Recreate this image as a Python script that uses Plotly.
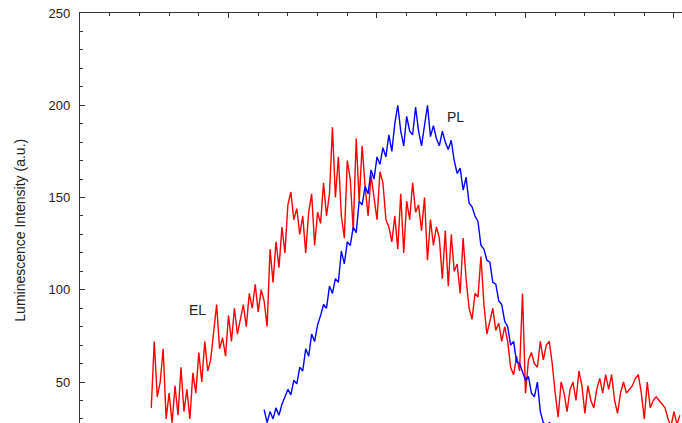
import plotly.graph_objects as go

# Wavelength grids (nm), 2 nm sampling
el_start, pl_start, step = 448, 524, 2

# Electroluminescence spectrum (a.u.)
el_intensity = [
    36, 72, 42, 50, 68, 30, 44, 28, 48, 32,
    58, 34, 46, 30, 55, 44, 66, 50, 72, 56,
    62, 78, 92, 68, 74, 64, 86, 72, 90, 76,
    84, 92, 80, 98, 90, 103, 88, 100, 94, 80,
    122, 104, 126, 112, 134, 120, 146, 153, 138, 144,
    130, 140, 120, 142, 152, 124, 142, 136, 158, 140,
    152, 188, 150, 172, 140, 128, 170, 160, 132, 182,
    148, 178, 156, 140, 162, 150, 138, 164, 158, 138,
    134, 126, 140, 122, 152, 120, 148, 138, 158, 142,
    146, 132, 150, 116, 138, 124, 134, 128, 106, 132,
    102, 130, 110, 114, 98, 128, 106, 90, 84, 98,
    96, 118, 92, 76, 84, 90, 78, 82, 72, 80,
    72, 58, 54, 64, 56, 98, 44, 62, 66, 60,
    58, 72, 62, 70, 72, 60, 44, 31, 50, 44,
    34, 46, 50, 40, 56, 48, 33, 48, 40, 36,
    46, 52, 44, 54, 46, 54, 40, 33, 44, 50,
    44, 46, 48, 52, 54, 44, 30, 50, 36, 40,
    42, 40, 38, 36, 30, 26, 34, 27, 32,
]

# Photoluminescence spectrum (a.u.)
pl_intensity = [
    35, 28, 34, 30, 36, 32, 38, 42, 46, 43,
    51, 49, 58, 56, 68, 64, 76, 72, 81, 86,
    92, 90, 102, 98, 106, 104, 121, 114, 126, 124,
    134, 131, 148, 146, 156, 152, 165, 160, 172, 168,
    177, 172, 184, 175, 190, 200, 186, 178, 194, 186,
    184, 199, 186, 178, 190, 200, 183, 189, 182, 178,
    186, 180, 176, 181, 170, 163, 166, 154, 161, 147,
    145, 140, 137, 124, 122, 116, 115, 104, 103, 94,
    92, 83, 80, 70, 72, 61, 60, 55, 51, 53,
    44, 42, 50, 34, 28, 26, 28, 27, 25,
]

el_wavelength = [el_start + step * i for i in range(len(el_intensity))]
pl_wavelength = [pl_start + step * i for i in range(len(pl_intensity))]

# Labels placed next to each curve
curve_labels = ["EL", "PL"]
label_x = [478.8, 653.2]
label_y = [89, 193.6]

y_ticks = [50, 100, 150, 200, 250]

fig = go.Figure()
fig.add_trace(go.Scatter(x=el_wavelength, y=el_intensity, mode="lines",
                         line=dict(color="#ff0000", width=1.4), name="EL"))
fig.add_trace(go.Scatter(x=pl_wavelength, y=pl_intensity, mode="lines",
                         line=dict(color="#0000ff", width=1.4), name="PL"))

for txt, lx, ly in zip(curve_labels, label_x, label_y):
    fig.add_annotation(x=lx, y=ly, text=txt, showarrow=False,
                       font=dict(family="Liberation Sans, Arial, sans-serif",
                                 size=14, color="#222222"))

fig.add_annotation(xref="paper", yref="paper", x=-0.1, y=0.471,
                   text="Luminescence Intensity (a.u.)", textangle=-90,
                   showarrow=False, xanchor="center", yanchor="middle",
                   font=dict(family="Liberation Sans, Arial, sans-serif",
                             size=14, color="#222222"))

axis_font = dict(family="Liberation Sans, Arial, sans-serif", size=13, color="#222222")

fig.update_layout(
    width=682, height=423,
    margin=dict(l=80, r=0, t=13, b=0),
    paper_bgcolor="white", plot_bgcolor="white",
    showlegend=False,
    xaxis=dict(range=[400, 805.4], side="top", showline=True, linecolor="#333333",
               linewidth=1.3, mirror=False, showgrid=False, zeroline=False,
               ticks="inside", tick0=400, dtick=100, ticklen=5, tickcolor="#333333",
               showticklabels=False,
               minor=dict(ticks="inside", dtick=20, ticklen=3, tickcolor="#333333",
                          showgrid=False)),
    yaxis=dict(range=[27.8, 250], showline=True, linecolor="#333333", linewidth=1.3,
               mirror=False, showgrid=False, zeroline=False,
               ticks="inside", tickvals=y_ticks, ticklen=5, tickcolor="#333333",
               tickfont=axis_font, ticklabelstandoff=6,
               minor=dict(ticks="inside", dtick=10, tick0=0, ticklen=3,
                          tickcolor="#333333", showgrid=False)),
)

fig.write_html("out.html")
